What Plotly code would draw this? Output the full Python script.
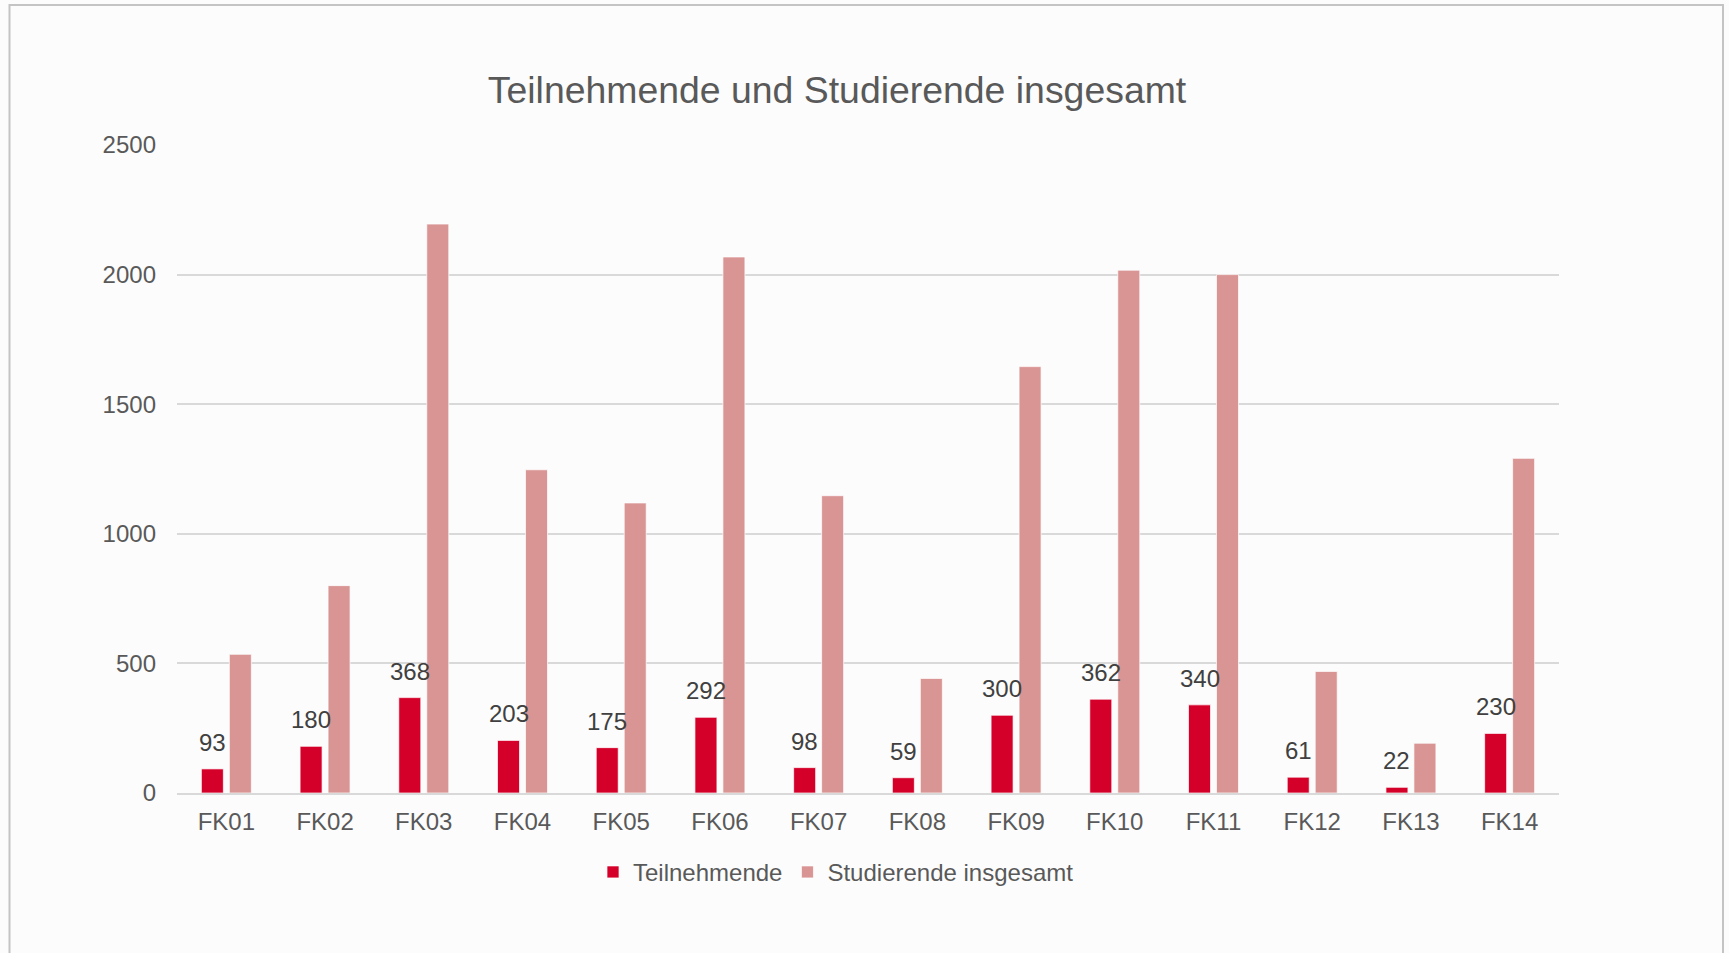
import plotly.graph_objects as go

categories = ["FK01", "FK02", "FK03", "FK04", "FK05", "FK06", "FK07",
              "FK08", "FK09", "FK10", "FK11", "FK12", "FK13", "FK14"]
teilnehmende = [93, 180, 368, 203, 175, 292, 98, 59, 300, 362, 340, 61, 22, 230]
studierende = [535, 800, 2195, 1247, 1119, 2068, 1147, 442, 1645, 2017, 2000, 469, 192, 1291]
y_ticks = [0, 500, 1000, 1500, 2000, 2500]

W, H = 1729, 953
# screen-space plot box
SX0, SX1, SY0, SY1 = 177, 1559, 145, 792.7
ML, MT = SX0, SY0
MR, MB = W - SX1, H - SY1
PW, PH = SX1 - SX0, SY1 - SY0

FONT = "Liberation Sans, Arial, sans-serif"
TXT = "#595959"

fig = go.Figure()
fig.add_trace(go.Bar(
    x=categories, y=teilnehmende, name="Teilnehmende",
    marker=dict(color="#D50029", line=dict(color="rgba(255,255,255,0.7)", width=1)),
))
fig.add_trace(go.Bar(
    x=categories, y=studierende, name="Studierende insgesamt",
    marker=dict(color="#D99594", line=dict(color="rgba(255,255,255,0.7)", width=1)),
))

for c, v in zip(categories, teilnehmende):
    fig.add_annotation(x=c, y=v, text=str(v), showarrow=False,
                       xshift=-14, yshift=11, yanchor="bottom",
                       font=dict(family=FONT, size=24, color="#404040"))


def px_x(p):
    return (p - SX0) / PW


def px_y(p):
    return (SY1 - p) / PH


fig.add_shape(type="rect", xref="paper", yref="paper",
              x0=px_x(9.5), x1=px_x(1723), y0=px_y(1000), y1=px_y(5),
              line=dict(color="#c4c4c4", width=2), fillcolor="rgba(0,0,0,0)",
              layer="below")

fig.update_layout(
    width=W, height=H,
    margin=dict(l=ML, r=MR, t=MT, b=MB, autoexpand=False),
    paper_bgcolor="#fcfcfc", plot_bgcolor="#fcfcfc",
    barmode="group", bargap=0.433, bargroupgap=0.214,
    title=dict(text="Teilnehmende und Studierende insgesamt",
               x=837 / W, xanchor="center",
               y=1 - 90 / H, yanchor="middle", yref="container",
               font=dict(family=FONT, size=37.4, color=TXT)),
    font=dict(family=FONT, size=24, color=TXT),
    legend=dict(orientation="h", x=px_x(836), xanchor="center",
                y=px_y(872), yanchor="middle",
                font=dict(family=FONT, size=24, color=TXT),
                bgcolor="rgba(0,0,0,0)", itemclick=False),
    showlegend=True,
)
fig.update_xaxes(showgrid=False, showline=True, linecolor="#d9d9d9", linewidth=1.5,
                 ticks="", tickfont=dict(family=FONT, size=24, color=TXT),
                 ticklabelstandoff=6, fixedrange=True)
fig.update_yaxes(range=[0, 2500], tickvals=y_ticks, showgrid=True,
                 gridcolor="#d9d9d9", gridwidth=1.5, zeroline=False, showline=False,
                 ticks="", tickfont=dict(family=FONT, size=24, color=TXT),
                 ticklabelstandoff=20, fixedrange=True)

fig.write_html(
    "out.html",
    config={"displayModeBar": False},
    post_script="document.body.style.margin='0px';document.body.style.overflow='hidden';"
                "document.body.style.background='#fcfcfc';",
)
